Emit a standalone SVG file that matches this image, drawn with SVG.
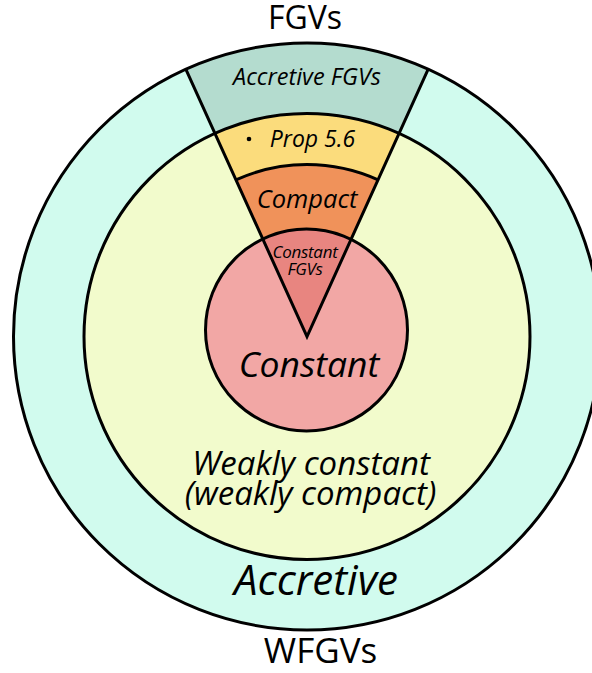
<svg xmlns="http://www.w3.org/2000/svg" width="592" height="673" viewBox="0 0 592 673">
<style>
.ln{stroke:#000;stroke-width:3;fill:none}
.t{font-family:"Open Sans","Noto Sans","DejaVu Sans",sans-serif;fill:#000;text-anchor:middle}
.i{font-style:italic}
</style>
<rect width="592" height="673" fill="#fff"/>
<g id="accretive">
<circle cx="307" cy="336.5" r="293.5" fill="#d1fbee"/>
</g>
<g id="accretive-fgvs">
<path d="M307,336.5 L185.8,69.2 A293.5,293.5 0 0 1 428.2,69.2 Z" fill="#b4dccf"/>
</g>
<g id="weakly-constant">
<circle cx="307" cy="336.5" r="223" fill="#f2fbcc"/>
</g>
<g id="prop56">
<path d="M307,336.5 L214.9,133.4 A223,223 0 0 1 399.1,133.4 Z" fill="#fbdc7c"/>
</g>
<g id="compact">
<path d="M307,336.5 L235.9,179.9 A172,172 0 0 1 378.1,179.9 Z" fill="#f0925a"/>
</g>
<g id="constant">
<circle cx="306.5" cy="330" r="101" fill="#f2a7a5"/>
</g>
<g id="constant-fgvs">
<path d="M307,336.5 L262.8,239 A101,101 0 0 1 351.1,239.3 Z" fill="#e88580"/>
</g>
<g id="outlines">
<circle class="ln" cx="307" cy="336.5" r="293.5"/>
<circle class="ln" cx="307" cy="336.5" r="223"/>
<circle class="ln" cx="306.5" cy="330" r="101"/>
<path class="ln" d="M235.9,179.9 A172,172 0 0 1 378.1,179.9"/>
<polyline class="ln" points="185.8,69.2 307,336.5 428.2,69.2"/>
</g>
<g id="labels">
<text class="t" x="305" y="29" font-size="32">FGVs</text>
<text class="t i" x="307" y="85" font-size="23.5">Accretive FGVs</text>
<circle cx="249" cy="139" r="2.3" fill="#000"/>
<text class="t i" x="312.5" y="147" font-size="23">Prop 5.6</text>
<text class="t i" x="307" y="208" font-size="25.5">Compact</text>
<text class="t i" x="305" y="258" font-size="17" letter-spacing="-0.3">Constant</text>
<text class="t i" x="305" y="275" font-size="17" letter-spacing="-0.3">FGVs</text>
<text class="t i" x="309" y="377" font-size="35.5">Constant</text>
<text class="t i" x="311" y="475" font-size="33">Weakly constant</text>
<text class="t i" x="310.5" y="505" font-size="33">(weakly compact)</text>
<text class="t i" x="316" y="595" font-size="42">Accretive</text>
<text class="t" x="320.5" y="663" font-size="35">WFGVs</text>
</g>
</svg>
